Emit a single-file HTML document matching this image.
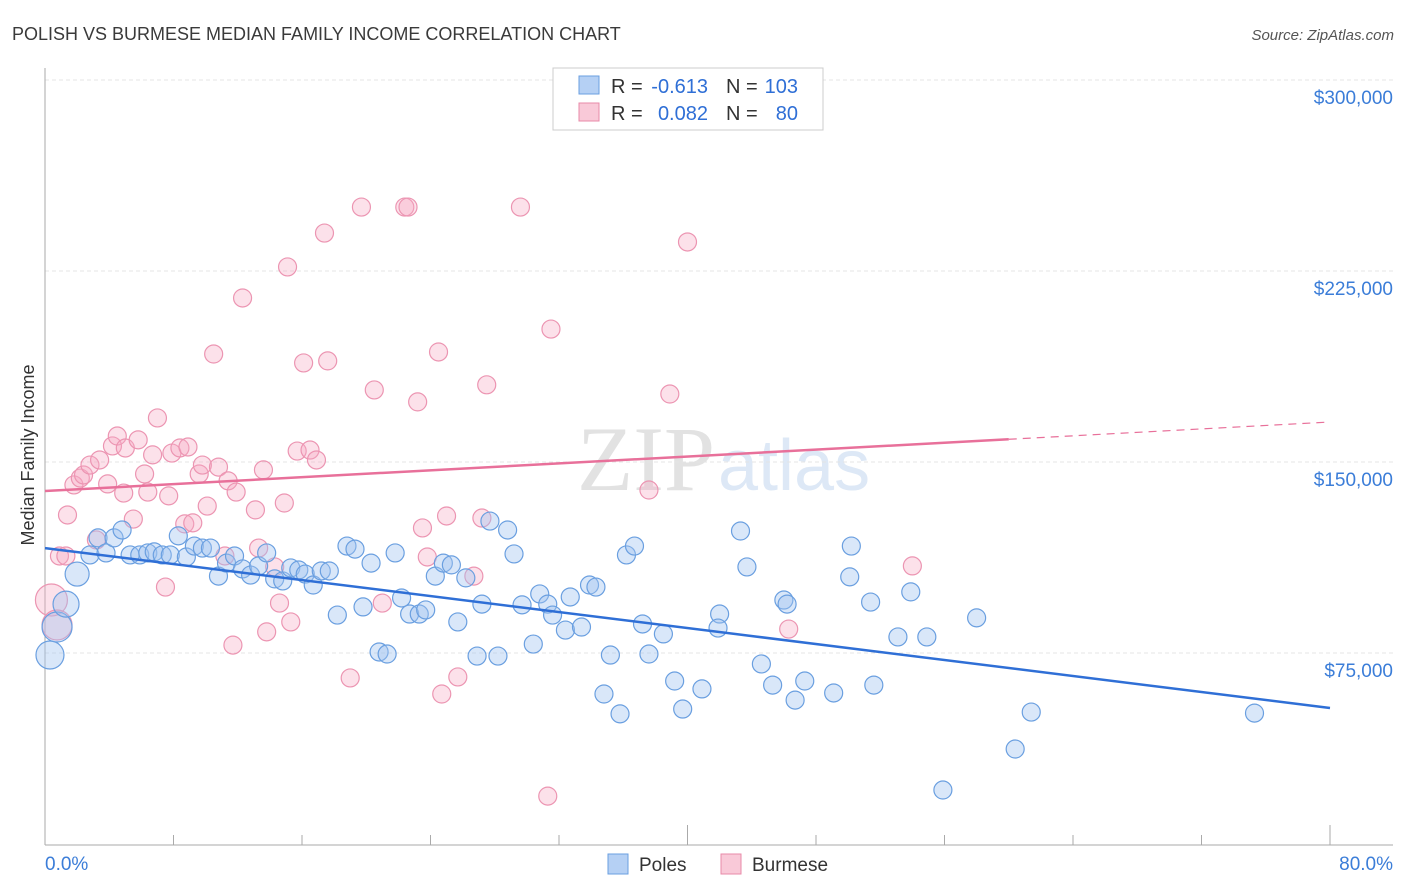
<!DOCTYPE html>
<html><head><meta charset="utf-8">
<style>
body{margin:0;background:#fff;width:1406px;height:892px;overflow:hidden;font-family:"Liberation Sans",sans-serif;}
svg{position:absolute;left:0;top:0}
</style></head>
<body>
<svg id="chart" width="1406" height="892">
<text x="12" y="40" font-size="18" fill="#3a3a3a">POLISH VS BURMESE MEDIAN FAMILY INCOME CORRELATION CHART</text>
<text x="1394" y="40" font-size="15" fill="#555" font-style="italic" text-anchor="end">Source: ZipAtlas.com</text>
<text x="715" y="490" font-size="92" fill="#e2e2e2" text-anchor="end" font-family="Liberation Serif">ZIP</text>
<text x="718" y="490" font-size="72" fill="#dde8f6">atlas</text>
<text transform="translate(34,455) rotate(-90)" font-size="18" fill="#333" text-anchor="middle">Median Family Income</text>
<g id="grid"></g><g id="axes"></g><g id="pts"></g><g id="lines"></g>
<g>
<rect x="553" y="68" width="270" height="62" fill="#fff" stroke="#ccc"/>
<rect x="579" y="76" width="20" height="18" fill="#b5d0f4" stroke="#6a9fe0"/>
<rect x="579" y="103" width="20" height="18" fill="#f9c9d8" stroke="#e88aa8"/>
<text x="611" y="93" font-size="20" fill="#333">R =</text>
<text x="708" y="93" font-size="20" fill="#2f6fd6" text-anchor="end">-0.613</text>
<text x="726" y="93" font-size="20" fill="#333">N =</text>
<text x="798" y="93" font-size="20" fill="#2f6fd6" text-anchor="end">103</text>
<text x="611" y="120" font-size="20" fill="#333">R =</text>
<text x="708" y="120" font-size="20" fill="#2f6fd6" text-anchor="end">0.082</text>
<text x="726" y="120" font-size="20" fill="#333">N =</text>
<text x="798" y="120" font-size="20" fill="#2f6fd6" text-anchor="end">80</text>
</g>
<g>
<rect x="608" y="854" width="20" height="20" fill="#b5d0f4" stroke="#6a9fe0"/>
<text x="639" y="871" font-size="19" fill="#333">Poles</text>
<rect x="721" y="854" width="20" height="20" fill="#f9c9d8" stroke="#e88aa8"/>
<text x="752" y="871" font-size="19" fill="#333">Burmese</text>
</g>
</svg>
<script>
const polesX=[0.31,0.75,1.31,2.0,2.8,3.3,3.8,4.3,4.8,5.3,5.9,6.4,6.8,7.3,7.8,8.3,8.8,9.3,9.8,10.3,10.8,11.3,11.8,12.3,12.8,13.3,13.8,14.3,14.8,15.3,15.8,16.2,16.7,17.2,17.7,18.2,18.8,19.3,19.8,20.3,20.8,21.3,21.8,22.2,22.7,23.3,23.7,24.3,24.8,25.3,25.7,26.2,26.9,27.2,27.7,28.2,28.8,29.2,29.7,30.4,30.8,31.3,31.6,32.4,32.7,33.4,33.9,34.3,34.8,35.2,35.8,36.2,36.7,37.2,37.6,38.5,39.2,39.7,40.9,42.0,41.9,43.3,43.7,44.6,45.3,46.0,46.2,46.7,47.3,49.1,50.1,50.2,51.4,51.6,53.1,53.9,54.9,55.9,58.0,60.4,61.4,75.3];
const polesY=[74.2,85.2,94.2,106.0,113.5,120.2,114.3,120.2,123.3,113.5,113.5,114.3,114.7,113.5,113.5,121.0,112.7,117.0,116.2,116.2,105.2,110.3,113.1,108.0,105.6,109.2,114.3,104.1,103.3,108.4,107.6,106.0,101.7,107.2,107.2,89.9,117.0,115.8,93.1,110.3,75.4,74.6,114.3,96.6,90.3,90.3,91.9,105.2,110.3,109.6,87.2,104.5,73.8,94.2,126.8,73.8,123.3,113.9,93.9,78.5,98.2,94.2,89.9,84.0,97.0,85.2,101.7,100.9,58.9,74.2,51.1,113.5,117.0,86.4,74.6,82.5,64.0,53.0,60.9,90.3,84.8,122.9,108.8,70.7,62.4,95.8,94.2,56.5,64.0,59.3,104.9,117.0,95.0,62.4,81.3,99.0,81.3,21.2,88.8,37.3,51.8,51.4];
const polesR=[14,15,13,12];
const burX=[0.4,0.75,0.9,1.3,1.4,1.8,2.2,2.4,2.8,3.2,3.4,3.9,4.2,4.5,4.9,5.0,5.5,5.8,6.2,6.4,6.7,7.0,7.5,7.7,7.9,8.4,8.7,8.9,9.2,9.6,9.8,10.1,10.5,10.8,11.2,11.4,11.7,11.9,12.3,13.1,13.3,13.6,13.8,14.3,14.6,14.9,15.1,15.3,15.7,16.1,16.5,16.9,17.4,17.6,19.0,19.7,20.5,21.0,22.4,22.6,23.2,23.5,23.8,24.5,24.7,25.0,25.7,26.7,27.2,27.5,29.6,31.3,31.5,37.6,38.9,40.0,46.3,54.0];
const burY=[95.8,86.0,113.1,113.1,129.2,141.0,143.7,144.9,148.8,119.4,150.8,141.4,156.3,160.2,137.8,155.5,127.6,158.7,145.3,138.2,152.8,167.3,100.9,136.7,153.5,155.5,125.7,155.9,126.1,145.3,148.8,132.7,192.4,148.0,113.1,142.6,78.1,138.2,214.4,131.2,116.2,146.9,83.3,108.8,94.6,133.9,226.6,87.2,154.3,188.9,154.7,150.8,239.9,189.7,65.2,250.1,178.3,94.6,250.1,250.1,173.6,124.1,112.7,193.2,58.9,128.8,65.6,105.2,128.0,180.3,250.1,18.8,202.2,139.0,176.7,236.4,84.4,109.2];
const burR=[16,15];
const trendPoles=[116.2,53.4];
const trendBurmese=[138.6,165.7];
const yTicks=[75,150,225,300];
const xTickLabels=["0.0%","80.0%"];

const NS="http://www.w3.org/2000/svg";
const X=p=>45+p*1285/80;
const Y=v=>844-v*191/75;
function mk(tag,attrs,parent){const e=document.createElementNS(NS,tag);for(const k in attrs)e.setAttribute(k,attrs[k]);parent.appendChild(e);return e;}
const grid=document.getElementById('grid'),axes=document.getElementById('axes'),pts=document.getElementById('pts'),lines=document.getElementById('lines');
yTicks.forEach(v=>{
  const l=mk('line',{x1:45,x2:1393,y1:Y(v),y2:Y(v),stroke:'#e4e4e4','stroke-dasharray':'4,3'},grid);
  
  
  const t=mk('text',{x:1393,y:Y(v)+24,'font-size':19,fill:'#3b7dd8','text-anchor':'end'},grid);
  t.textContent='$'+v+',000';
  
  
});
mk('line',{x1:45,x2:1393,y1:845,y2:845,stroke:'#aaa'},axes);
mk('line',{x1:45,x2:45,y1:68,y2:845,stroke:'#aaa'},axes);
for(let i=0;i<=10;i++){
  const x=X(i*8);
  const tk=mk('line',{x1:x,x2:x,y1:(i==5||i==10)?825:835,y2:845,stroke:'#aaa'},axes);
  
  
}
const xl0=mk('text',{x:45,y:870,'font-size':19,fill:'#3b7dd8'},axes);xl0.textContent=xTickLabels[0];


const xl1=mk('text',{x:1393,y:870,'font-size':19,fill:'#3b7dd8','text-anchor':'end'},axes);xl1.textContent=xTickLabels[1];


burX.forEach((p,i)=>{
  const c=mk('circle',{cx:X(p),cy:Y(burY[i]),r:burR[i]||9,fill:'rgba(245,168,195,0.35)',stroke:'#ec95b2','stroke-width':1.2},pts);
  
  
});
polesX.forEach((p,i)=>{
  const c=mk('circle',{cx:X(p),cy:Y(polesY[i]),r:polesR[i]||9,fill:'rgba(160,196,240,0.4)',stroke:'#6a9fe0','stroke-width':1.2},pts);
  
  
});
const lp=mk('line',{x1:X(0),y1:Y(trendPoles[0]),x2:X(80),y2:Y(trendPoles[1]),stroke:'#2f6fd6','stroke-width':2.5},lines);


const bm=trendBurmese[0]+(trendBurmese[1]-trendBurmese[0])*60/80;
const lb=mk('line',{x1:X(0),y1:Y(trendBurmese[0]),x2:X(60),y2:Y(bm),stroke:'#e8709a','stroke-width':2.5},lines);


const lbd=mk('line',{x1:X(60),y1:Y(bm),x2:X(80),y2:Y(trendBurmese[1]),stroke:'#e8709a','stroke-width':1.2,'stroke-dasharray':'8,6'},lines);


</script>
</body></html>
